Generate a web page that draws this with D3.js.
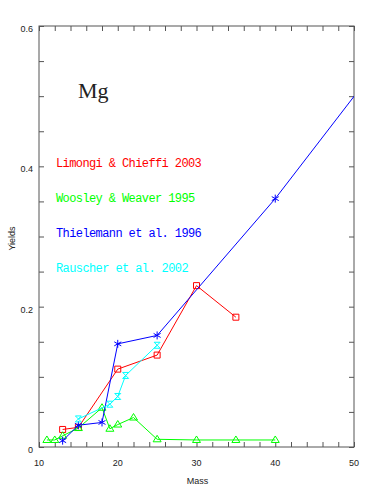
<!DOCTYPE html>
<html><head><meta charset="utf-8">
<script src="https://cdn.jsdelivr.net/npm/d3@7"></script>
<style>body{margin:0;background:#fff}svg{display:block}</style>
</head><body>
<svg id="c" width="374" height="498"></svg>
<script>
// ---- data ----
const lcMass = [13, 15, 20, 25, 30, 35];
const lcYield = [0.025, 0.028, 0.111, 0.131, 0.230, 0.185];
const wwMass = [11, 12, 13, 15, 18, 19, 20, 22, 25, 30, 35, 40];
const wwYield = [0.010, 0.010, 0.016, 0.027, 0.056, 0.026, 0.032, 0.042, 0.011, 0.010, 0.010, 0.010];
const thMass = [13, 15, 18, 20, 25, 40, 70];
const thYield = [0.009, 0.031, 0.035, 0.147, 0.159, 0.354, 0.791];
const raMass = [15, 19, 20, 21, 25];
const raYield = [0.040, 0.061, 0.072, 0.102, 0.145];
const seriesNames = ["Limongi & Chieffi 2003", "Woosley & Weaver 1995", "Thielemann et al. 1996", "Rauscher et al. 2002"];
const xTickLabels = [10, 20, 30, 40, 50];
const yTickLabels = [0, 0.2, 0.4, 0.6];
const element = "Mg";

// ---- layout ----
const L = 39, R = 354, T = 26, B = 447;
const svg = d3.select("#c");
const x = d3.scaleLinear().domain([10, 50]).range([L, R]);
const y = d3.scaleLinear().domain([0, 0.6]).range([B, T]);
const axisCol = "#555";

const series = [
  {name: seriesNames[0], m: lcMass, v: lcYield, color: "#ff0000", marker: "square"},
  {name: seriesNames[1], m: wwMass, v: wwYield, color: "#00ff00", marker: "triangle"},
  {name: seriesNames[2], m: thMass, v: thYield, color: "#0000ff", marker: "star"},
  {name: seriesNames[3], m: raMass, v: raYield, color: "#00ffff", marker: "hourglass"}
];

svg.append("defs").append("clipPath").attr("id", "clip")
  .append("rect").attr("x", L).attr("y", T).attr("width", R - L).attr("height", B - T);

// frame
svg.append("rect").attr("x", L).attr("y", T).attr("width", R - L).attr("height", B - T)
  .attr("fill", "none").attr("stroke", axisCol).attr("stroke-width", 1);

// ticks using d3 axes (inward)
const xt = d3.range(10, 50.01, 2);
const yt = d3.range(0, 0.601, 0.05);
function styleAxis(g) {
  g.select(".domain").remove();
  g.selectAll(".tick line").attr("stroke", axisCol);
  g.selectAll("text").remove();
}
svg.append("g").attr("transform", `translate(0,${B})`)
  .call(d3.axisBottom(x).tickValues(xt).tickSizeInner(-5).tickSizeOuter(0)).call(styleAxis);
svg.append("g").attr("transform", `translate(0,${T})`)
  .call(d3.axisTop(x).tickValues(xt).tickSizeInner(-5).tickSizeOuter(0)).call(styleAxis);
svg.append("g").attr("transform", `translate(${L},0)`)
  .call(d3.axisLeft(y).tickValues(yt).tickSizeInner(-5).tickSizeOuter(0)).call(styleAxis);
svg.append("g").attr("transform", `translate(${R},0)`)
  .call(d3.axisRight(y).tickValues(yt).tickSizeInner(-5).tickSizeOuter(0)).call(styleAxis);

// tick labels
const labFont = "Liberation Sans, Arial, sans-serif";
svg.append("g").selectAll("text").data(xTickLabels).join("text")
  .attr("x", d => x(d)).attr("y", B + 19).attr("text-anchor", "middle")
  .attr("font-family", labFont).attr("font-size", 9).attr("fill", "#222").text(d => d);
svg.append("g").selectAll("text").data(yTickLabels).join("text")
  .attr("x", L - 6).attr("y", d => y(d) + 6).attr("text-anchor", "end")
  .attr("font-family", labFont).attr("font-size", 9).attr("fill", "#222").text(d => d);

// axis titles
svg.append("text").attr("x", (L + R) / 2 + 1).attr("y", 484).attr("text-anchor", "middle")
  .attr("font-family", labFont).attr("font-size", 9).attr("fill", "#222").text("Mass");
svg.append("text").attr("transform", `translate(15,${(T + B) / 2 + 2}) rotate(-90)`)
  .attr("text-anchor", "middle").attr("font-family", labFont).attr("font-size", 9)
  .attr("fill", "#222").text("Yields");

// element label
svg.append("text").attr("x", 78).attr("y", 98).attr("font-family", "Liberation Serif, DejaVu Serif, serif")
  .attr("font-size", 22).attr("fill", "#222").text(element);

// series
const plot = svg.append("g").attr("clip-path", "url(#clip)");
const line = d3.line().x(d => x(d[0])).y(d => y(d[1]));
const markerPath = {
  square: "M-3,-3H3V3H-3Z",
  triangle: "M0,-4L4,2.5H-4Z",
  star: "M0,-4V4M-3.5,-2L3.5,2M-3.5,2L3.5,-2",
  hourglass: "M-3,-3H3L-3,3H3Z"
};
series.forEach(s => {
  const pts = s.m.map((m, i) => [m, s.v[i]]);
  plot.append("path").attr("d", line(pts)).attr("fill", "none")
    .attr("stroke", s.color).attr("stroke-width", 1);
  plot.append("g").selectAll("path").data(pts).join("path")
    .attr("transform", d => `translate(${x(d[0])},${y(d[1])})`)
    .attr("d", markerPath[s.marker]).attr("fill", "none")
    .attr("stroke", s.color).attr("stroke-width", 1);
});

// legend
const legY = [167, 202, 237, 272];
svg.append("g").selectAll("text").data(series).join("text")
  .attr("x", 56).attr("y", (d, i) => legY[i])
  .attr("font-family", "Liberation Mono, Courier New, monospace").attr("font-size", 12)
  .attr("letter-spacing", -0.6).attr("fill", d => d.color).text(d => d.name);
</script>
</body></html>
